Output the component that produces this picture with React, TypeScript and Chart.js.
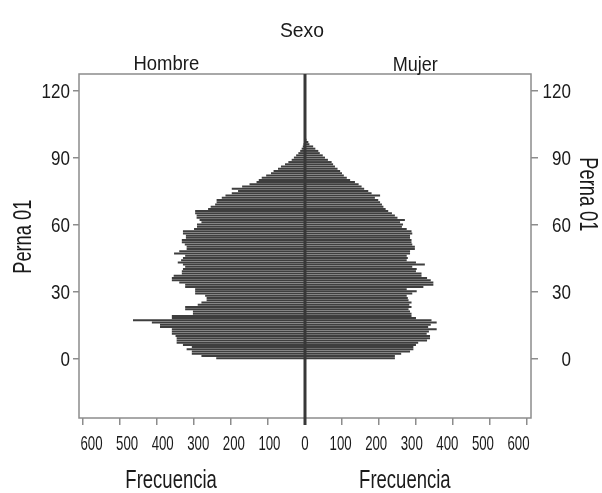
import React, { useEffect, useRef } from 'react';
import { Chart, registerables } from 'chart.js';

Chart.register(...registerables);

const ages = [
  0, 1, 2, 3, 4, 5, 6, 7, 8, 9, 10, 11, 12, 13, 14, 15, 16, 17, 18, 19,
  20, 21, 22, 23, 24, 25, 26, 27, 28, 29, 30, 31, 32, 33, 34, 35, 36, 37, 38, 39,
  40, 41, 42, 43, 44, 45, 46, 47, 48, 49, 50, 51, 52, 53, 54, 55, 56, 57, 58, 59,
  60, 61, 62, 63, 64, 65, 66, 67, 68, 69, 70, 71, 72, 73, 74, 75, 76, 77, 78, 79,
  80, 81, 82, 83, 84, 85, 86, 87, 88, 89, 90, 91, 92, 93, 94, 95, 96, 97, 98, 99,
];

const hombre = [
  240, 280, 306, 306, 320, 306, 330, 347, 347, 347,
  350, 360, 360, 360, 392, 392, 414, 465, 360, 360,
  303, 303, 324, 324, 290, 280, 266, 266, 270, 297,
  297, 297, 324, 324, 340, 360, 360, 355, 333, 333,
  330, 324, 330, 344, 335, 330, 324, 354, 340, 320,
  320, 325, 333, 333, 322, 322, 330, 330, 300, 292,
  292, 280, 285, 293, 293, 297, 297, 262, 255, 243,
  239, 239, 225, 215, 198, 181, 198, 170, 150, 131,
  125, 117, 105, 92, 85, 73, 65, 54, 45, 36,
  30, 24, 18, 13, 9, 6, 4, 2, 1, 0,
];

const mujer = [
  243, 243, 260, 284, 293, 293, 300, 306, 330, 338,
  338, 329, 335, 356, 333, 340, 356, 342, 300, 288,
  288, 284, 280, 288, 282, 288, 280, 278, 275, 290,
  302, 275, 320, 347, 347, 340, 330, 315, 315, 300,
  302, 290, 324, 300, 275, 278, 275, 284, 284, 297,
  297, 290, 288, 288, 284, 284, 290, 288, 275, 262,
  265, 257, 270, 250, 243, 235, 225, 218, 212, 208,
  203, 198, 189, 203, 180, 171, 160, 153, 145, 135,
  122, 113, 105, 100, 95, 88, 81, 76, 72, 62,
  54, 48, 40, 36, 28, 22, 12, 9, 4, 2,
];

const yTicks = [0, 30, 60, 90, 120];
const xTicks = [-600, -500, -400, -300, -200, -100, 0, 100, 200, 300, 400, 500, 600];

const FAMILY = "'Liberation Sans', Arial, sans-serif";
const TEXT = '#1a1a1a';
const FRAME = '#8c8c8c';

function txt(
  ctx: CanvasRenderingContext2D,
  s: string,
  x: number,
  y: number,
  size: number,
  sx: number,
  align: CanvasTextAlign,
  rot = 0,
) {
  ctx.save();
  ctx.translate(x, y);
  ctx.rotate(rot);
  ctx.scale(sx, 1);
  ctx.font = `${size}px ${FAMILY}`;
  ctx.textAlign = align;
  ctx.textBaseline = 'alphabetic';
  ctx.fillStyle = TEXT;
  ctx.fillText(s, 0, 0);
  ctx.restore();
}

const overlay = {
  id: 'overlay',
  afterDatasetsDraw(chart: any) {
    const { ctx, chartArea: a, scales } = chart;
    const x0 = scales.x.getPixelForValue(0);
    ctx.save();
    ctx.strokeStyle = FRAME;
    ctx.lineWidth = 1.5;
    ctx.strokeRect(a.left, a.top, a.right - a.left, a.bottom - a.top);
    ctx.strokeStyle = '#383838';
    ctx.lineWidth = 3;
    ctx.beginPath();
    ctx.moveTo(x0, a.top);
    ctx.lineTo(x0, a.bottom + 7);
    ctx.stroke();
    ctx.restore();
  },
  afterDraw(chart: any) {
    const { ctx, chartArea: a, scales } = chart;
    const x = scales.x;
    const y = scales.y;
    const x0 = x.getPixelForValue(0);

    // titles
    txt(ctx, 'Sexo', x0 - 3, a.top - 37.5, 21, 0.92, 'center');
    txt(ctx, 'Hombre', x.getPixelForValue(-375), a.top - 4, 21, 0.88, 'center');
    txt(ctx, 'Mujer', x.getPixelForValue(298), a.top - 3, 21, 0.86, 'center');
    txt(ctx, 'Frecuencia', x.getPixelForValue(-362), a.bottom + 70, 25, 0.74, 'center');
    txt(ctx, 'Frecuencia', x.getPixelForValue(270), a.bottom + 70, 25, 0.74, 'center');
    txt(ctx, 'Perna 01', a.left - 48, y.getPixelForValue(54.5), 25, 0.73, 'center', -Math.PI / 2);
    txt(ctx, 'Perna 01', a.right + 49, y.getPixelForValue(73.5), 25, 0.73, 'center', Math.PI / 2);

    // x tick labels
    xTicks.forEach((v) => {
      const px = x0 + (x.getPixelForValue(v) - x0) * 0.962;
      txt(ctx, String(Math.abs(v)), px, a.bottom + 32, 21, 0.63, 'center');
    });

    // y tick labels (both sides)
    yTicks.forEach((v) => {
      const py = y.getPixelForValue(v) + 0.358 * 21;
      txt(ctx, String(v), a.left - 9, py, 21, 0.81, 'right');
      txt(ctx, String(v), a.right + 40, py, 21, 0.81, 'right');
    });
  },
};

export default function App() {
  const ref = useRef<HTMLCanvasElement | null>(null);

  useEffect(() => {
    if (!ref.current) return;
    const yRange = { min: -26.8, max: 127.5 };
    const tickGrid = (len: number) => ({
      drawOnChartArea: false,
      drawTicks: true,
      tickLength: len,
      color: FRAME,
      lineWidth: 1.5,
      offset: false,
    });
    const chart = new Chart(ref.current, {
      type: 'bar',
      data: {
        datasets: [
          {
            label: 'Hombre',
            data: ages.map((a, i) => ({ x: -hombre[i], y: a })),
            backgroundColor: '#3e3e3e',
            borderWidth: 0,
            grouped: false,
            barPercentage: 0.9,
            categoryPercentage: 1,
          },
          {
            label: 'Mujer',
            data: ages.map((a, i) => ({ x: mujer[i], y: a })),
            backgroundColor: '#3e3e3e',
            borderWidth: 0,
            grouped: false,
            barPercentage: 0.9,
            categoryPercentage: 1,
          },
        ],
      } as any,
      options: {
        animation: false,
        responsive: true,
        maintainAspectRatio: false,
        indexAxis: 'y',
        layout: { padding: { top: 74, left: 0, right: 0, bottom: 0 } },
        plugins: {
          legend: { display: false },
          tooltip: { enabled: false },
        },
        scales: {
          x: {
            type: 'linear',
            min: -611,
            max: 611,
            offset: false,
            afterBuildTicks: (s: any) => {
              s.ticks = xTicks.map((v) => ({ value: v }));
            },
            afterFit: (s: any) => {
              s.height = 75;
            },
            ticks: { display: false },
            grid: tickGrid(7),
            border: { display: false },
          },
          y: {
            type: 'linear',
            position: 'left',
            ...yRange,
            offset: false,
            afterBuildTicks: (s: any) => {
              s.ticks = yTicks.map((v) => ({ value: v }));
            },
            afterFit: (s: any) => {
              s.width = 79;
            },
            ticks: { display: false },
            grid: tickGrid(6),
            border: { display: false },
          },
          y2: {
            type: 'linear',
            position: 'right',
            ...yRange,
            offset: false,
            afterBuildTicks: (s: any) => {
              s.ticks = yTicks.map((v) => ({ value: v }));
            },
            afterFit: (s: any) => {
              s.width = 71;
            },
            ticks: { display: false },
            grid: tickGrid(7),
            border: { display: false },
          },
        },
      } as any,
      plugins: [overlay],
    });
    return () => chart.destroy();
  }, []);

  return (
    <div style={{ position: 'fixed', left: 0, top: 0, width: 602, height: 493, background: '#fff' }}>
      <canvas ref={ref} />
    </div>
  );
}
